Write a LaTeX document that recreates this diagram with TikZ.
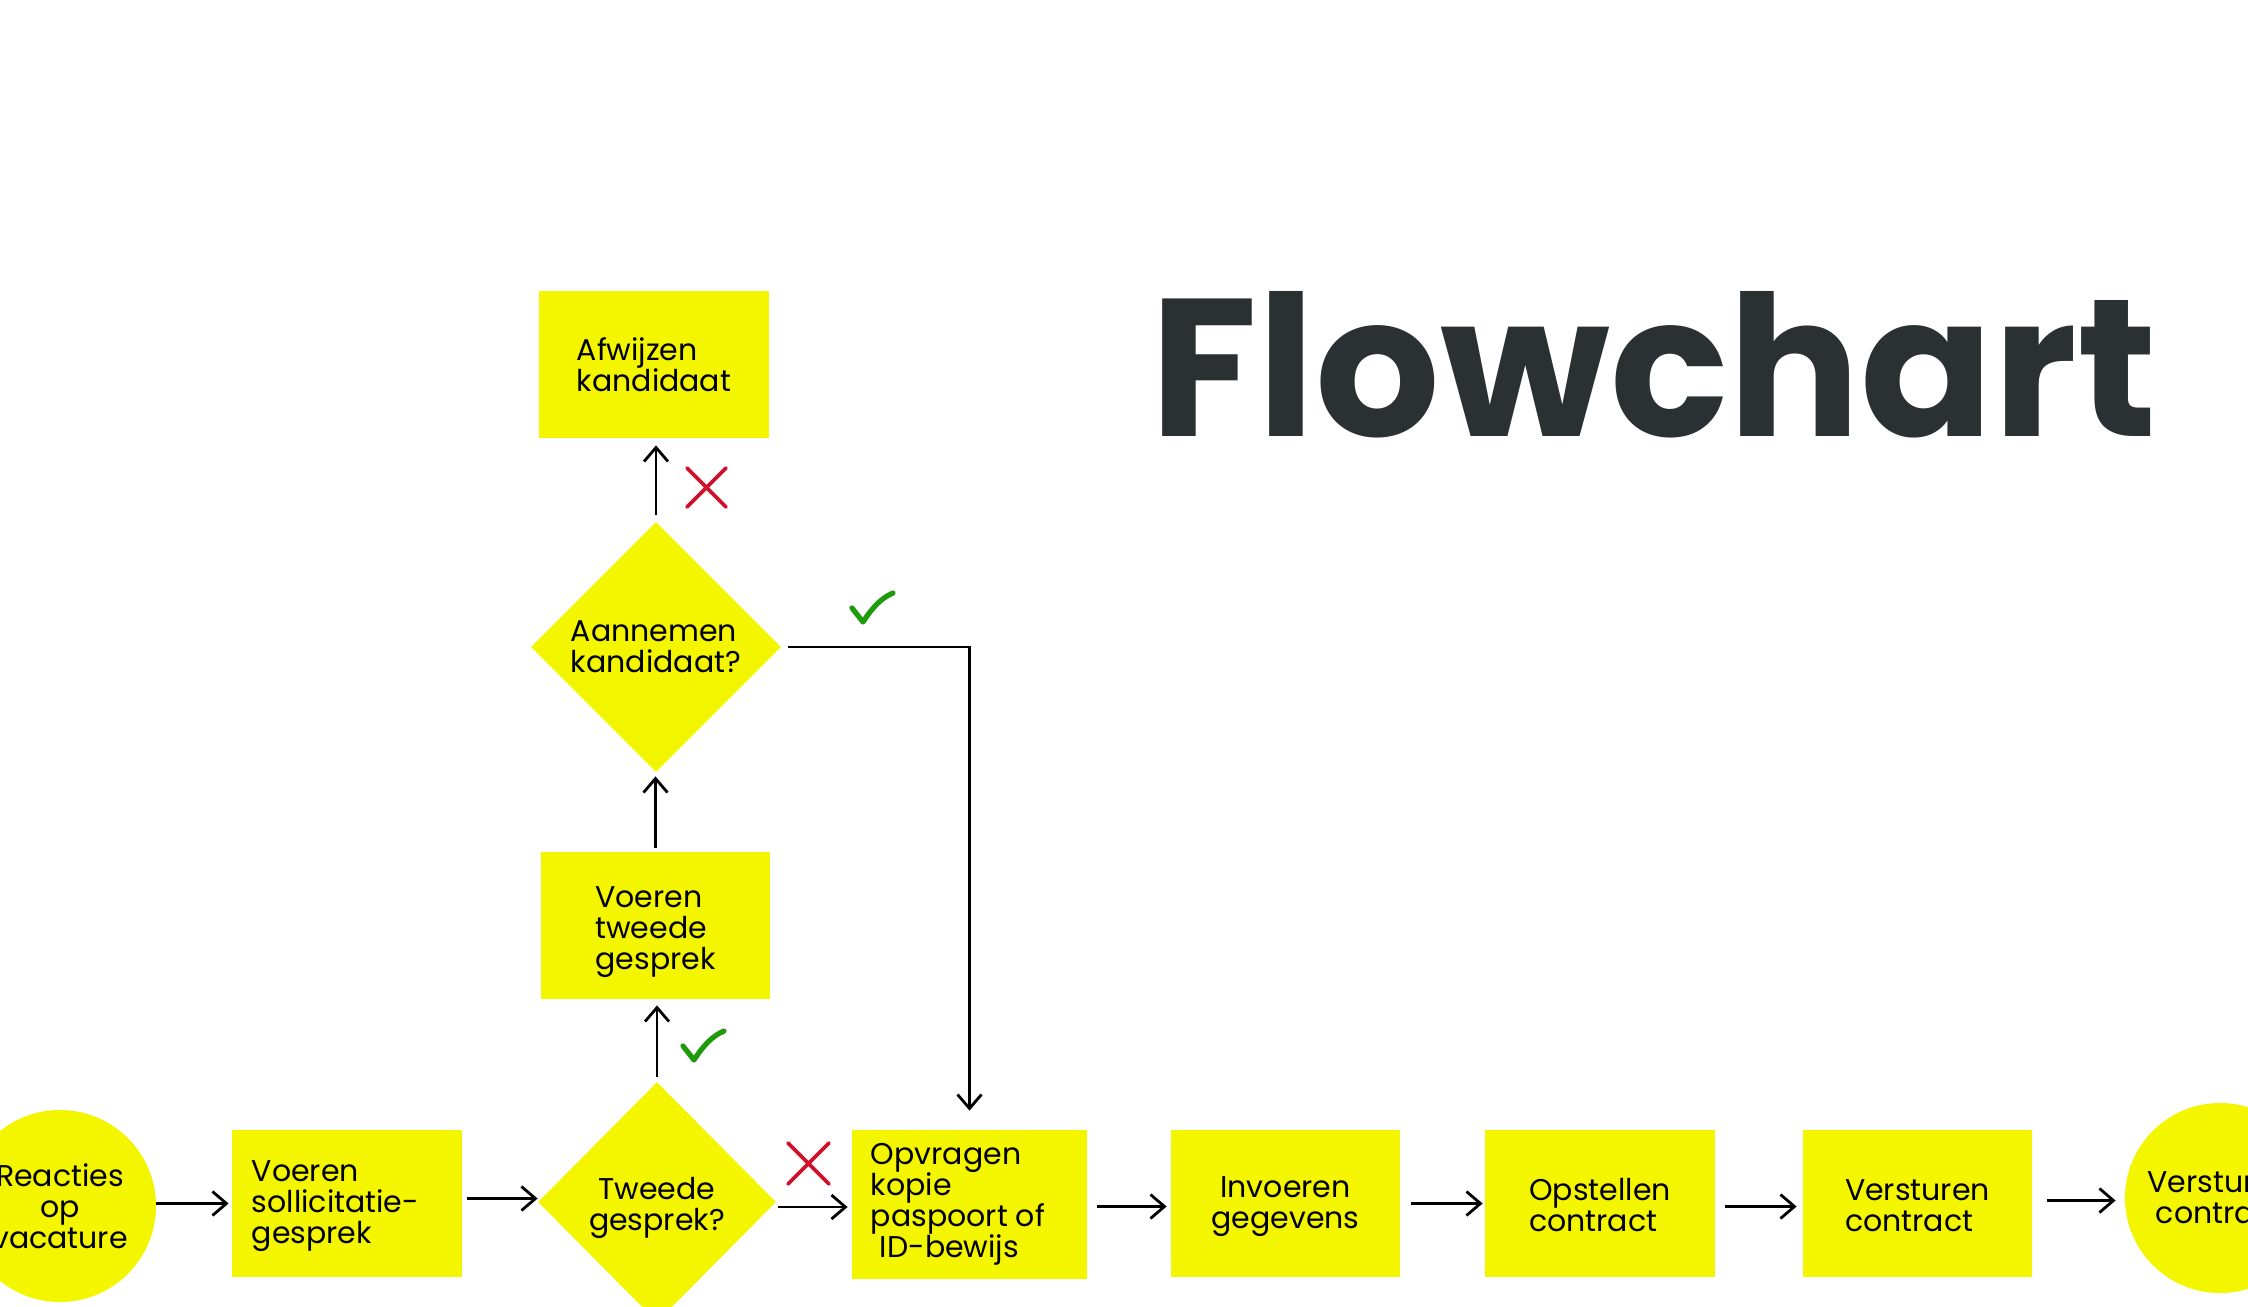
\documentclass[tikz,border=0pt]{standalone}
\usepackage{fontspec}
\setmainfont{Poppins}
\usetikzlibrary{shapes.geometric,arrows.meta}
\definecolor{fcyellow}{HTML}{F4F600}
\definecolor{fcgreen}{HTML}{1E9A0A}
\definecolor{fcred}{HTML}{D0112B}
\definecolor{fctitle}{HTML}{2B3033}
\newcommand\fcfont{\fontsize{15pt}{15.5pt}\selectfont}
\newcommand\fcup[1]{\rule{0pt}{#1}}
\newcommand\fcpad[1]{\rule{#1}{0pt}}
\tikzset{
  box/.style={fill=fcyellow, minimum width=115pt, minimum height=73.5pt, inner sep=0pt, align=left, font=\fcfont},
  dia/.style={diamond, fill=fcyellow, inner sep=0pt, aspect=1, font=\fcfont},
  term/.style={circle, fill=fcyellow, minimum size=96pt, inner sep=0pt, align=center, font=\fcfont},
  arr/.style={line width=1.4pt, -{Straight Barb[length=7pt,width=12pt]}},
  okmark/.style={fcgreen, line width=2.6pt, line cap=round, line join=round},
  nomark/.style={fcred, line width=1.8pt, line cap=round},
}
\begin{document}
\begin{tikzpicture}[x=0.5pt,y=-0.5pt]
\useasboundingbox (0,0) rectangle (2248,1306);
\fill[white] (0,0) rectangle (2248,1306);
\clip (0,0) rectangle (2248,1306);

% title
\node[anchor=base west, inner sep=0pt, text=fctitle, font=\fontsize{98pt}{98pt}\selectfont\bfseries] (title) at (1150,436) {Flowchart};

% bottom row
\node[term] (reac) at (60,1206) {Reacties\\op\\vacature};
\node[box] (sol) at (347,1203.5) {\fcup{13pt}Voeren\\sollicitatie-\fcpad{11.5pt}\\gesprek};
\node[dia, minimum width=119pt, minimum height=120pt, align=center] (twe) at (657,1202) {\fcup{17pt}Tweede\\gesprek?};
\node[box, minimum width=117.5pt, minimum height=74.5pt] (opv) at (969.5,1204.5) {Opvragen\\kopie\\paspoort of\fcpad{11.5pt}\\\hspace*{0.3em}ID-bewijs};
\node[box, minimum width=114.5pt, align=center] (inv) at (1285.5,1203.5) {\fcup{14pt}Invoeren\\gegevens};
\node[box] (ops) at (1600,1203.5) {\fcup{13pt}Opstellen\\contract};
\node[box, minimum width=114.5pt] (ver) at (1917.5,1203.5) {\fcup{13pt}Versturen\\contract};
\node[term, minimum size=95pt] (fin) at (2220,1198) {Versturen\\contract};

% upper column
\node[box, minimum width=114.5pt] (vtw) at (655.5,925.5) {\fcup{17.5pt}Voeren\\tweede\\gesprek};
\node[dia, minimum width=125pt, minimum height=125pt, align=left] (aan) at (656,647) {Aannemen\\kandidaat?};
\node[box] (afw) at (654,364.5) {Afwijzen\\kandidaat};

% connectors
\draw[arr, shorten >=1.5pt] (reac.east |- sol.west) -- (sol.west);
\draw[arr, shorten <=2.5pt] (sol.east) ++(0,-5) coordinate (s1) -- (s1 -| twe.west);
\draw[arr, shorten <=1pt, shorten >=2pt] (twe.east) ++(0,5) coordinate (t1) -- (t1 -| opv.west);
\draw[arr, shorten <=5pt, shorten >=2pt] (opv.east |- inv.west) ++(0,3) coordinate (o1) -- (o1 -| inv.west);
\draw[arr, shorten <=5.5pt, shorten >=1pt] (inv.east) -- (ops.west);
\draw[arr, shorten <=5pt, shorten >=3pt] (ops.east) ++(0,3) coordinate (p1) -- (p1 -| ver.west);
\draw[arr, shorten <=7.5pt, shorten >=4.5pt] (ver.east) ++(0,-3) coordinate (v1) -- (v1 -| fin.west);
\draw[arr, shorten <=2.5pt, shorten >=3pt] (twe.north) -- (twe.north |- vtw.south);
\draw[arr, shorten <=2pt, shorten >=2pt] (vtw.north) -- (vtw.north |- aan.south);
\draw[arr, shorten <=3.5pt, shorten >=3.5pt] (aan.north) -- (aan.north |- afw.south);
\draw[arr, shorten <=3.5pt, shorten >=9.5pt] (aan.east) -| (opv.north);

% decision marks
\draw[okmark] (683,1046) -- (694,1060) .. controls (703,1046) and (712,1036) .. (724,1031);
\draw[okmark] (852,608) -- (863,622) .. controls (872,608) and (881,598) .. (893,593);
\draw[nomark] (687,468) -- (726,507) (687,507) -- (726,468);
\draw[nomark] (788,1143) -- (829,1184) (788,1184) -- (829,1143);
\end{tikzpicture}
\end{document}
